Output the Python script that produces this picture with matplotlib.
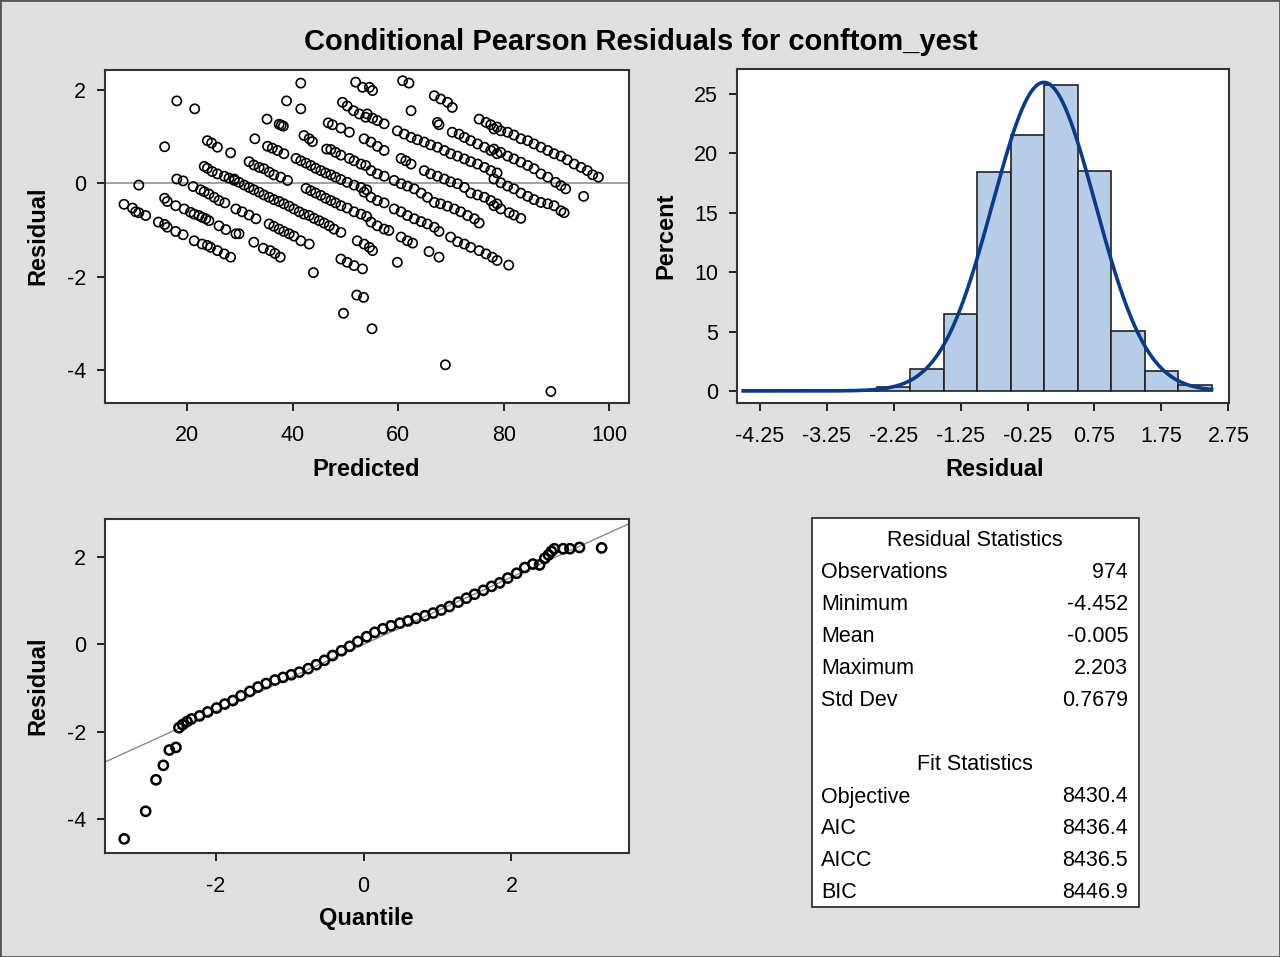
import matplotlib
matplotlib.use("Agg")
import matplotlib.pyplot as plt
import numpy as np
from matplotlib.patches import Rectangle

plt.rcParams['font.family'] = ['Liberation Sans', 'DejaVu Sans']
plt.rcParams['axes.unicode_minus'] = False

# ---------------- data ----------------
title = "Conditional Pearson Residuals for conftom_yest"

# Residual vs predicted (grouped by diagonal band)
pred_values = [
    18.0, 21.4, 15.7, 23.8, 24.6, 25.7, 28.2,
    23.2, 23.8, 24.7, 25.7, 27.0, 27.9, 28.9,
    10.8,
    18.0, 19.2, 21.1, 22.5, 23.2, 24.1, 25.1, 26.0, 27.1, 29.2,
    8.0, 9.6, 10.2, 10.8, 12.1,
    15.7, 16.2, 17.8, 19.4, 20.6, 21.3, 22.2, 22.8, 23.5, 24.1, 26.0, 27.3, 29.2,
    14.5, 15.7, 16.2, 17.8, 19.2, 21.3, 22.8, 23.8, 24.4, 25.7, 27.0, 28.2,
    41.5, 38.8, 41.5, 35.1, 37.4, 37.8, 38.2, 32.8,
    42.1, 43.1, 43.7,
    46.7, 47.5, 49.1, 50.7,
    49.4, 50.3, 51.5, 52.6, 53.8,
    51.9, 53.2,
    46.4, 47.2, 48.1, 49.1, 50.7, 51.6, 52.9, 53.8,
    35.2, 36.1, 37.1, 38.3,
    40.6, 41.5, 42.5, 43.4, 44.3, 45.3, 46.2, 47.2, 48.1, 49.1, 50.3, 51.6, 52.9, 54.0,
    31.7, 32.6, 33.6, 34.5, 35.5, 36.4, 37.7, 39.0,
    42.5, 43.4, 44.3, 45.3, 46.2, 47.2, 48.1, 49.1, 50.3, 51.6, 52.9, 54.0,
    28.9, 29.8, 30.8, 31.7, 32.6, 33.6, 34.5, 35.5, 36.4, 37.4, 38.3, 39.3, 40.2, 41.2,
    42.1, 43.1, 44.0, 45.0, 45.9, 46.9, 47.8, 49.1,
    30.4, 31.7, 33.0,
    35.5, 36.4, 37.4, 38.3, 39.3, 40.2, 41.5, 43.1,
    29.8, 32.6,
    34.4, 35.7, 36.6, 37.6,
    49.1, 50.3, 51.6, 53.2,
    52.2, 53.5,
    60.8, 62.0, 54.5, 55.1, 66.8, 68.0, 69.3, 70.2, 62.4,
    54.1, 55.1, 56.0, 57.3,
    67.4, 67.7,
    75.3, 76.6, 77.5, 78.7,
    59.8, 61.1, 62.4, 63.6, 64.9, 66.1, 67.4, 68.7, 69.9, 71.2, 72.5, 73.7, 75.0, 76.3, 77.5, 78.7,
    70.2, 71.5, 72.5, 73.7, 75.0, 76.3, 77.5, 78.7,
    64.9, 66.1, 67.4, 68.7, 69.9, 71.2, 72.5, 73.7, 75.0, 76.3, 77.5, 78.7,
    53.5, 54.8, 56.0, 57.3,
    60.5, 61.4, 62.4,
    54.8, 56.0, 57.3,
    59.2, 60.5, 61.7, 63.0, 64.3, 65.5, 66.8, 68.0, 69.3, 70.6, 71.8, 73.1, 74.4, 75.3,
    53.5, 54.8, 56.0, 57.3,
    59.2, 60.5, 61.7, 63.0, 64.3, 65.5, 66.8, 67.7,
    54.8, 56.0, 57.3, 58.2,
    69.9, 71.2, 72.5, 73.7, 75.3, 76.6, 77.8, 78.7, 80.9,
    60.5, 61.7, 62.7,
    54.5, 55.1,
    65.8, 67.7,
    59.8,
    78.1, 79.4, 80.7, 81.9, 83.2, 84.5, 85.7, 87.0, 88.3, 89.5, 90.8, 92.0, 93.3, 94.6, 95.8, 96.8, 97.9,
    78.1, 79.4, 80.7, 81.9, 83.2, 84.5, 85.7, 87.0, 88.3, 89.8, 90.8, 91.7,
    95.1,
    78.1, 79.4, 80.7, 81.9, 83.2, 84.5, 85.7, 87.0, 88.3, 89.5, 90.8, 91.4,
    78.1, 79.4, 81.0, 81.9, 83.2,
    43.9, 49.6, 52.1, 53.4, 55.0, 68.9, 88.9,
]
resid_values = [
    1.76, 1.59, 0.78, 0.91, 0.86, 0.77, 0.65,
    0.36, 0.32, 0.25, 0.20, 0.15, 0.11, 0.06,
    -0.04,
    0.09, 0.05, -0.07, -0.14, -0.18, -0.23, -0.30, -0.37, -0.42, -0.55,
    -0.45, -0.53, -0.61, -0.63, -0.69,
    -0.32, -0.39, -0.48, -0.55, -0.62, -0.66, -0.69, -0.73, -0.76, -0.80, -0.91, -0.99, -1.08,
    -0.83, -0.88, -0.94, -1.03, -1.10, -1.23, -1.30, -1.33, -1.37, -1.44, -1.51, -1.58,
    2.14, 1.76, 1.59, 1.37, 1.26, 1.24, 1.22, 0.95,
    1.02, 0.95, 0.89,
    1.29, 1.25, 1.18, 1.09,
    1.73, 1.65, 1.55, 1.48, 1.41,
    2.16, 2.05,
    0.73, 0.72, 0.66, 0.60, 0.53, 0.48, 0.41, 0.38,
    0.79, 0.75, 0.70, 0.63,
    0.53, 0.48, 0.43, 0.38, 0.32, 0.27, 0.22, 0.18, 0.13, 0.08, 0.02, -0.04, -0.09, -0.14,
    0.46, 0.39, 0.34, 0.31, 0.24, 0.18, 0.13, 0.06,
    -0.11, -0.16, -0.21, -0.26, -0.32, -0.37, -0.42, -0.48, -0.53, -0.61, -0.66, -0.71,
    0.09, 0.02, -0.04, -0.09, -0.14, -0.19, -0.25, -0.30, -0.35, -0.39, -0.44, -0.49, -0.55, -0.61,
    -0.66, -0.69, -0.75, -0.80, -0.85, -0.91, -0.98, -1.05,
    -0.61, -0.68, -0.76,
    -0.87, -0.92, -0.98, -1.03, -1.08, -1.13, -1.23, -1.30,
    -1.08, -1.26,
    -1.39, -1.44, -1.50, -1.58,
    -1.62, -1.69, -1.76, -1.83,
    -1.23, -1.30,
    2.19, 2.14, 2.05, 1.98, 1.87, 1.80, 1.73, 1.62, 1.55,
    1.48, 1.39, 1.34, 1.27,
    1.30, 1.25,
    1.37, 1.30, 1.25, 1.20,
    1.12, 1.05, 0.98, 0.93, 0.88, 0.82, 0.77, 0.70, 0.63, 0.58, 0.52, 0.46, 0.41, 0.34, 0.27, 0.22,
    1.09, 1.05, 0.98, 0.91, 0.84, 0.77, 0.70, 0.63,
    0.27, 0.20, 0.15, 0.09, 0.03, -0.01, -0.09, -0.21, -0.25, -0.30, -0.37, -0.44,
    0.95, 0.88, 0.79, 0.70,
    0.53, 0.48, 0.41,
    0.27, 0.20, 0.15,
    0.06, -0.01, -0.06, -0.12, -0.21, -0.30, -0.41, -0.44, -0.49, -0.55, -0.61, -0.69, -0.76, -0.85,
    -0.19, -0.30, -0.37, -0.42,
    -0.55, -0.61, -0.69, -0.76, -0.82, -0.87, -0.94, -1.03,
    -0.83, -0.91, -0.98, -1.01,
    -1.15, -1.25, -1.30, -1.37, -1.44, -1.51, -1.58, -1.65, -1.75,
    -1.15, -1.23, -1.28,
    -1.37, -1.44,
    -1.46, -1.58,
    -1.69,
    1.16, 1.12, 1.09, 1.03, 0.95, 0.91, 0.84, 0.77, 0.70, 0.63, 0.58, 0.50, 0.41, 0.34, 0.27, 0.18, 0.13,
    0.73, 0.66, 0.58, 0.52, 0.45, 0.38, 0.31, 0.20, 0.13, 0.02, -0.05, -0.12,
    -0.28,
    0.09, 0.01, -0.06, -0.12, -0.21, -0.28, -0.35, -0.41, -0.44, -0.48, -0.59, -0.63,
    -0.48, -0.55, -0.63, -0.68, -0.75,
    -1.91, -2.78, -2.39, -2.44, -3.11, -3.88, -4.45,
]

# Histogram (percent per bin of width 0.5)
hist_bin_left = [-4.5, -4.0, -3.5, -3.0, -2.5, -2.0, -1.5, -1.0, -0.5, 0.0, 0.5, 1.0, 1.5, 2.0]
hist_percent = [0.1, 0.1, 0.1, 0.1, 0.3, 1.85, 6.45, 18.4, 21.55, 25.75, 18.5, 5.05, 1.7, 0.5]
hist_bin_width = 0.5
hist_xticks = [-4.25, -3.25, -2.25, -1.25, -0.25, 0.75, 1.75, 2.75]

# Q-Q plot points (normal quantile, residual)
qq_quantile = [
    -3.24, -2.95, -2.81, -2.71, -2.63, -2.54, -2.50, -2.45, -2.39,
    -2.33, -2.22, -2.11, -1.99, -1.88, -1.77, -1.66, -1.54, -1.43, -1.32, -1.20,
    -1.09, -0.98, -0.87, -0.75, -0.64, -0.53, -0.42, -0.30, -0.19, -0.08, 0.04,
    0.15, 0.26, 0.37, 0.49, 0.60, 0.71, 0.83, 0.94, 1.05, 1.16, 1.28, 1.39,
    1.50, 1.62, 1.73, 1.84, 1.95, 2.07, 2.18, 2.29,
    2.38, 2.45, 2.50, 2.54, 2.58, 2.70, 2.79, 2.92, 3.22,
]
qq_resid = [
    -4.45, -3.82, -3.10, -2.77, -2.42, -2.36, -1.91, -1.84, -1.77,
    -1.71, -1.64, -1.55, -1.46, -1.37, -1.29, -1.18, -1.08, -0.98, -0.90, -0.82,
    -0.76, -0.70, -0.64, -0.56, -0.47, -0.37, -0.26, -0.15, -0.05, 0.06, 0.17,
    0.27, 0.35, 0.42, 0.48, 0.53, 0.59, 0.65, 0.71, 0.78, 0.86, 0.96, 1.05,
    1.14, 1.23, 1.32, 1.40, 1.51, 1.62, 1.75, 1.83,
    1.81, 1.96, 2.04, 2.12, 2.18, 2.18, 2.18, 2.21, 2.20,
]

# Statistics table
resid_stat_labels = ["Observations", "Minimum", "Mean", "Maximum", "Std Dev"]
resid_stat_values = ["974", "-4.452", "-0.005", "2.203", "0.7679"]
fit_stat_labels = ["Objective", "AIC", "AICC", "BIC"]
fit_stat_values = ["8430.4", "8436.4", "8436.5", "8446.9"]
resid_mean = -0.005
resid_sd = 0.7679

# ---------------- figure ----------------
W, H = 1280, 957
fig = plt.figure(figsize=(W / 100, H / 100), dpi=100)
fig.patch.set_facecolor('#E0E0E0')


def box(l, t, r, b):
    return [l / W, 1 - b / H, (r - l) / W, (b - t) / H]


def fx(px):
    return px / W


def fy(py):
    return 1 - py / H


TICK_FS = 15.5
LABEL_FS = 17
FRAME = '#333333'
MARKER_S = 44
MARKER_LW = 1.2


def style(ax):
    ax.set_facecolor('white')
    for s in ax.spines.values():
        s.set_color(FRAME)
        s.set_linewidth(1.5)
    ax.tick_params(direction='out', length=6, width=1.2, colors='black',
                   labelsize=TICK_FS)
    ax.tick_params(axis='x', pad=10)
    ax.tick_params(axis='y', pad=7.5)


fig.text(fx(641), fy(42), title, ha='center', va='center',
         fontsize=21, fontweight='bold')

# --- scatter ---
ax1 = fig.add_axes(box(104.7, 70, 629, 402.7))
style(ax1)
ax1.axhline(0, color='#8a8a8a', lw=1.1, zorder=1)
ax1.scatter(pred_values, resid_values, s=MARKER_S, facecolors='none',
            edgecolors='black', linewidths=MARKER_LW, zorder=2)
ax1.set_xlim(4.34, 103.7)
ax1.set_ylim(-4.69, 2.42)
ax1.set_xticks([20, 40, 60, 80, 100])
ax1.set_yticks([2, 0, -2, -4])
fig.text(fx(366), fy(469), "Predicted", ha='center', va='center',
         fontsize=LABEL_FS, fontweight='bold')
fig.text(fx(38), fy(236), "Residual", ha='center', va='center',
         fontsize=LABEL_FS, fontweight='bold', rotation=90)

# --- histogram ---
ax2 = fig.add_axes(box(736.7, 69, 1229, 403.3))
style(ax2)
ax2.bar(hist_bin_left, hist_percent, width=hist_bin_width, align='edge',
        color='#B8CEE8', edgecolor='#222222', linewidth=1.2, zorder=2)
xs = np.linspace(-4.5, 2.5, 500)
dens = 100 * hist_bin_width * np.exp(-0.5 * ((xs - resid_mean) / resid_sd) ** 2) / (resid_sd * np.sqrt(2 * np.pi))
ax2.plot(xs, dens, color='#0B3A8A', lw=2.6, zorder=3)
ax2.set_xlim(-4.596, 2.76)
ax2.set_ylim(-1.04, 27.1)
ax2.set_xticks(hist_xticks)
ax2.set_xticklabels([f"{v:g}" for v in hist_xticks])
ax2.set_yticks([0, 5, 10, 15, 20, 25])
fig.text(fx(995), fy(469), "Residual", ha='center', va='center',
         fontsize=LABEL_FS, fontweight='bold')
fig.text(fx(666), fy(236), "Percent", ha='center', va='center',
         fontsize=LABEL_FS, fontweight='bold', rotation=90)

# --- Q-Q plot ---
ax3 = fig.add_axes(box(105, 519, 629, 853.3))
style(ax3)
ax3.set_xlim(-3.5, 3.59)
ax3.set_ylim(-4.78, 2.86)
ax3.axline((0, resid_mean), slope=resid_sd, color='#8a8a8a', lw=1.0, zorder=1)
ax3.scatter(qq_quantile, qq_resid, s=MARKER_S, facecolors='none',
            edgecolors='black', linewidths=MARKER_LW + 0.6, zorder=2)
ax3.set_xticks([-2, 0, 2])
ax3.set_yticks([2, 0, -2, -4])
fig.text(fx(366), fy(919), "Quantile", ha='center', va='center',
         fontsize=LABEL_FS, fontweight='bold')
fig.text(fx(38), fy(686), "Residual", ha='center', va='center',
         fontsize=LABEL_FS, fontweight='bold', rotation=90)

# --- statistics table ---
fig.patches.append(Rectangle((fx(811.5), fy(907)), (1138.5 - 811.5) / W, (907 - 518) / H,
                             transform=fig.transFigure, facecolor='white',
                             edgecolor='#222222', lw=1.2, zorder=0))
TAB_FS = 15.5
fig.text(fx(975), fy(541), "Residual Statistics", ha='center', va='center', fontsize=TAB_FS)
for i, (lab, val) in enumerate(zip(resid_stat_labels, resid_stat_values)):
    y = 573 + 32 * i
    fig.text(fx(821), fy(y), lab, ha='left', va='center', fontsize=TAB_FS)
    fig.text(fx(1128), fy(y), val, ha='right', va='center', fontsize=TAB_FS)
fig.text(fx(975), fy(765), "Fit Statistics", ha='center', va='center', fontsize=TAB_FS)
for i, (lab, val) in enumerate(zip(fit_stat_labels, fit_stat_values)):
    y = 797 + 32 * i
    fig.text(fx(821), fy(y), lab, ha='left', va='center', fontsize=TAB_FS)
    fig.text(fx(1128), fy(y), val, ha='right', va='center', fontsize=TAB_FS)

# outer border
fig.patches.append(Rectangle((0, 0), 1, 1, transform=fig.transFigure, fill=False,
                             edgecolor='#555555', lw=2))

fig.savefig("out.png", dpi=100, facecolor=fig.get_facecolor())
